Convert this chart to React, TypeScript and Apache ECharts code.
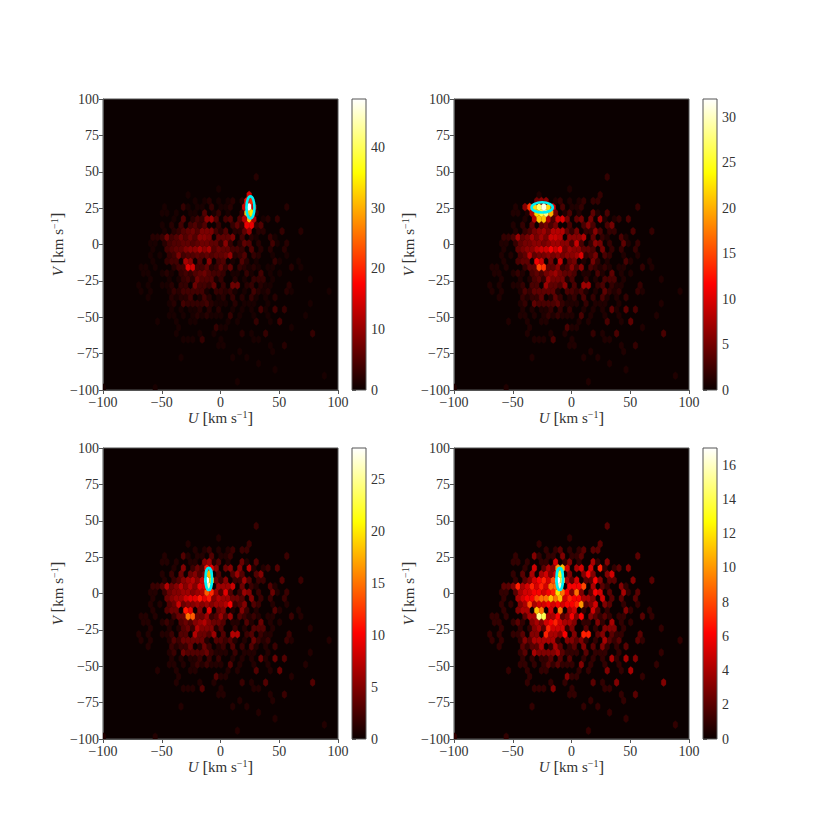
import React, { useEffect, useRef } from "react";
import * as echarts from "echarts";

// Hex-bin counts shared by all panels. Each row is a flat list: column, count, column, count...
const baseRows: number[][] = [
  [12, 1, 1, 1],
  [29, 1],
  [48, 1],
  [37, 1],
  [34, 1],
  [17, 1, 28, 1, 31, 1],
  [30, 1, 37, 1],
  [25, 1, 26, 1, 36, 1, 39, 2],
  [18, 1, 19, 1, 20, 1, 22, 3, 26, 1, 33, 1, 34, 1],
  [16, 1, 21, 1, 24, 1, 30, 2, 32, 1, 35, 3, 45, 3],
  [17, 1, 25, 3, 26, 1, 27, 1, 41, 1],
  [12, 1, 16, 1, 19, 1, 20, 1, 27, 1, 29, 1, 33, 3, 36, 1, 38, 4],
  [15, 1, 16, 1, 18, 1, 20, 1, 21, 2, 22, 1, 23, 2, 24, 1, 25, 1, 26, 1, 28, 3, 30, 1, 33, 1, 36, 1, 44, 1],
  [15, 1, 17, 1, 19, 1, 20, 1, 21, 2, 23, 2, 25, 2, 28, 1, 30, 1, 32, 1, 34, 4, 35, 1, 37, 4, 39, 3],
  [15, 1, 16, 2, 18, 4, 19, 3, 20, 3, 21, 3, 22, 3, 23, 4, 24, 2, 25, 1, 26, 1, 27, 1, 29, 2, 31, 1, 32, 1, 33, 1, 36, 1, 45, 1],
  [10, 1, 15, 2, 16, 1, 17, 2, 18, 2, 19, 4, 21, 1, 22, 4, 23, 2, 25, 1, 26, 2, 28, 3, 30, 2, 32, 3, 33, 1, 35, 1, 37, 2],
  [9, 1, 11, 1, 15, 1, 16, 3, 17, 2, 18, 4, 19, 4, 20, 4, 21, 4, 22, 4, 23, 1, 25, 3, 26, 3, 27, 2, 28, 3, 29, 1, 31, 1, 33, 4, 34, 2, 35, 1, 36, 2, 40, 2, 41, 1, 49, 1],
  [8, 1, 10, 1, 13, 1, 14, 1, 15, 2, 17, 3, 18, 3, 20, 7, 21, 4, 22, 4, 23, 3, 24, 6, 26, 3, 28, 7, 29, 7, 31, 2, 32, 3, 34, 2, 35, 1, 36, 1, 40, 2],
  [11, 1, 15, 1, 17, 1, 18, 3, 19, 4, 20, 2, 21, 7, 22, 5, 23, 5, 24, 5, 25, 1, 26, 3, 29, 2, 31, 1, 33, 3, 34, 3, 35, 3, 37, 1, 45, 1],
  [9, 1, 10, 1, 13, 1, 14, 2, 15, 1, 17, 3, 18, 4, 19, 3, 20, 5, 21, 6, 22, 7, 23, 5, 24, 4, 25, 4, 26, 3, 28, 1, 29, 1, 31, 3, 32, 1, 34, 4, 36, 1, 38, 1],
  [9, 1, 10, 1, 12, 1, 16, 2, 17, 4, 18, 4, 19, 15, 20, 14, 21, 4, 22, 4, 23, 6, 24, 2, 25, 3, 26, 6, 27, 3, 28, 6, 30, 3, 31, 2, 32, 1, 33, 2, 34, 1, 36, 1, 37, 1, 41, 2, 43, 1],
  [11, 1, 14, 3, 15, 4, 16, 4, 18, 11, 19, 9, 21, 5, 23, 9, 25, 4, 26, 5, 28, 1, 30, 5, 31, 2, 33, 1, 37, 3, 38, 1, 42, 1],
  [11, 1, 13, 1, 15, 3, 16, 4, 17, 8, 18, 4, 19, 5, 20, 5, 21, 6, 22, 5, 23, 6, 24, 5, 25, 6, 26, 6, 27, 7, 28, 10, 29, 2, 30, 3, 31, 5, 33, 3, 34, 2, 37, 1, 40, 1],
  [11, 1, 14, 4, 15, 5, 16, 6, 17, 6, 18, 8, 19, 9, 20, 9, 21, 11, 22, 9, 23, 11, 24, 5, 25, 7, 26, 6, 27, 6, 28, 4, 29, 4, 30, 3, 32, 5, 34, 2, 36, 2, 39, 2],
  [11, 1, 12, 1, 14, 2, 15, 4, 16, 5, 17, 5, 18, 6, 19, 6, 20, 5, 21, 6, 22, 7, 23, 7, 24, 6, 25, 6, 26, 3, 27, 9, 28, 3, 30, 2, 31, 6, 32, 5, 34, 2, 37, 4, 38, 1, 40, 2],
  [11, 2, 12, 2, 13, 3, 14, 7, 15, 4, 16, 5, 17, 7, 18, 5, 19, 7, 20, 5, 21, 9, 22, 9, 23, 8, 25, 6, 26, 6, 27, 6, 28, 8, 30, 4, 32, 2, 33, 1, 36, 3, 37, 1],
  [14, 1, 16, 2, 17, 3, 18, 5, 19, 6, 20, 7, 21, 5, 22, 8, 23, 8, 24, 8, 25, 4, 26, 2, 27, 5, 29, 2, 30, 2, 31, 6, 32, 3, 34, 2, 35, 2, 39, 3, 43, 2],
  [13, 1, 15, 2, 17, 4, 19, 4, 20, 5, 21, 3, 22, 5, 25, 3, 28, 3, 29, 6, 30, 3, 33, 3, 34, 5],
  [16, 1, 18, 5, 20, 2, 21, 4, 22, 3, 23, 9, 24, 10, 25, 5, 27, 4, 28, 5, 30, 5, 32, 7, 33, 1, 35, 1, 36, 2, 38, 3],
  [13, 1, 14, 1, 16, 1, 19, 1, 20, 1, 22, 5, 24, 1, 25, 3, 27, 1, 30, 4, 31, 1, 33, 3],
  [14, 1, 18, 3, 19, 1, 21, 1, 22, 1, 24, 3, 26, 1, 27, 1, 28, 2, 40, 2],
  [20, 1, 22, 1, 23, 2, 25, 1, 27, 1, 28, 2, 30, 2, 31, 2],
  [19, 1, 32, 2],
  [25, 1],
  [],
  [33, 2],
];

// Per-panel cluster cells that replace the shared counts: row, column, count.
const clusterA: number[][] = [
  [32, 32, 14], [31, 31, 18], [31, 32, 20], [30, 31, 14], [30, 32, 48], [30, 33, 14],
  [29, 31, 32], [29, 32, 34], [28, 31, 12], [28, 32, 30], [28, 33, 12],
  [27, 31, 16], [27, 32, 16], [26, 32, 10],
];
const clusterB: number[][] = [
  [31, 18, 5], [31, 19, 6], [31, 20, 6], [30, 16, 6], [30, 17, 14], [30, 18, 22], [30, 19, 27],
  [30, 20, 31], [30, 21, 22], [30, 22, 10], [29, 17, 8], [29, 18, 22], [29, 19, 26], [29, 20, 28],
  [29, 21, 20], [28, 18, 8], [28, 19, 21], [28, 20, 21], [28, 21, 8],
];
const clusterC: number[][] = [
  [29, 23, 6], [28, 23, 11], [28, 24, 9], [27, 23, 18], [26, 23, 28], [26, 24, 20], [25, 23, 26],
  [24, 23, 14], [24, 24, 12], [23, 23, 11],
];
const clusterD: number[][] = [
  [28, 23, 10], [28, 24, 11], [27, 23, 13], [26, 23, 17], [26, 24, 14], [25, 23, 16],
  [24, 23, 12], [24, 24, 9], [23, 23, 11],
];
const clusters = [clusterA, clusterB, clusterC, clusterD];

// Ellipse centre and radii in km/s: U, V, rU, rV.
const ellipses: number[][] = [
  [25.5, 25.5, 3.4, 7.6],
  [-25, 25.5, 9, 3.5],
  [-10, 10, 2.8, 7.6],
  [-10, 10, 2.8, 7.6],
];
const colorMaxima = [48, 32, 28, 17];
const colorTicks = [
  [0, 10, 20, 30, 40],
  [0, 5, 10, 15, 20, 25, 30],
  [0, 5, 10, 15, 20, 25],
  [0, 2, 4, 6, 8, 10, 12, 14, 16],
];

const FONT = '"Liberation Serif", serif';
const TEXT = "#333";
const LINE = "#555";
const panelLefts = [103, 454, 103, 454];
const panelTops = [99, 99, 448, 448];
const PW = 235;
const PH = 291;

const hot = (t: number) => {
  const c = (x: number) => Math.round(255 * Math.max(0, Math.min(1, x)));
  const r = 0.0416 + (t * 0.9584) / 0.365;
  const g = (t - 0.365) / 0.381;
  const b = (t - 0.746) / 0.254;
  return `rgb(${c(r)},${c(g)},${c(b)})`;
};

const cellsFor = (panel: number) => {
  const map = new Map<string, number>();
  baseRows.forEach((row, k) => {
    for (let j = 0; j < row.length; j += 2) map.set(`${k}|${row[j]}`, row[j + 1]);
  });
  clusters[panel].forEach(([k, i, v]) => map.set(`${k}|${i}`, v));
  const out: number[][] = [];
  map.forEach((v, key) => {
    const [k, i] = key.split("|").map(Number);
    const u = -103.6 + 4 * i + (k % 2 ? 2 : 0);
    const w = -98.41 + 4.138 * k;
    out.push([u, w, v]);
  });
  return out;
};

const axisName = (sym: string) => `{i|${sym}} {b|[}km s{s|−1}{b|]}`;
const nameStyle = {
  fontFamily: FONT,
  color: TEXT,
  fontSize: 15,
  rich: {
    i: { fontFamily: FONT, fontStyle: "italic" as const, fontSize: 15, color: TEXT },
    b: { fontFamily: FONT, fontSize: 17, color: TEXT },
    s: { fontFamily: FONT, fontSize: 10, color: TEXT, verticalAlign: "top" as const, padding: [0, 0, 5, 0] },
  },
};
const labelFmt = (v: number) => String(v).replace("-", "−");

export default function App() {
  const ref = useRef<HTMLDivElement>(null);
  useEffect(() => {
    const chart = echarts.init(ref.current!, undefined, { renderer: "svg" });
    const grid: any[] = [];
    const xAxis: any[] = [];
    const yAxis: any[] = [];
    const series: any[] = [];
    for (let p = 0; p < 4; p++) {
      const vmax = colorMaxima[p];
      grid.push({
        left: panelLefts[p], top: panelTops[p], width: PW, height: PH,
        show: true, backgroundColor: "#0b0000", borderColor: LINE, borderWidth: 1,
      });
      xAxis.push({
        type: "value", gridIndex: p * 2, min: -100, max: 100, interval: 50,
        splitLine: { show: false },
        axisLine: { show: true, onZero: false, lineStyle: { color: LINE, width: 1 } },
        axisTick: { show: true, length: 4, lineStyle: { color: LINE } },
        axisLabel: { fontFamily: FONT, fontSize: 14, color: TEXT, margin: 5, formatter: labelFmt, hideOverlap: false },
        name: axisName("U"), nameLocation: "middle", nameGap: 19, nameTextStyle: nameStyle,
      });
      yAxis.push({
        type: "value", gridIndex: p * 2, min: -100, max: 100, interval: 25,
        splitLine: { show: false },
        axisLine: { show: true, onZero: false, lineStyle: { color: LINE, width: 1 } },
        axisTick: { show: true, length: 4, lineStyle: { color: LINE } },
        axisLabel: { fontFamily: FONT, fontSize: 14, color: TEXT, margin: 4, formatter: labelFmt, hideOverlap: false },
        name: axisName("V"), nameLocation: "middle", nameGap: 33, nameRotate: 90, nameTextStyle: nameStyle,
      });
      // colour bar
      grid.push({
        left: panelLefts[p] + 249, top: panelTops[p], width: 14, height: PH,
        show: false,
      });
      xAxis.push({ type: "value", gridIndex: p * 2 + 1, min: 0, max: 1, show: false });
      yAxis.push({
        type: "value", gridIndex: p * 2 + 1, min: 0, max: vmax, position: "right",
        splitLine: { show: false },
        axisLine: { show: false },
        axisTick: { show: true, length: 4, lineStyle: { color: LINE }, customValues: colorTicks[p] },
        axisLabel: { fontFamily: FONT, fontSize: 14, color: TEXT, margin: 5, customValues: colorTicks[p], hideOverlap: false },
      });
      series.push({
        type: "custom", xAxisIndex: p * 2, yAxisIndex: p * 2, silent: true, clip: true,
        data: cellsFor(p),
        renderItem: (_: any, api: any) => {
          const u = api.value(0), v = api.value(1), n = api.value(2);
          const hw = 2, r = 2.76, s = 1.38;
          const pts = [[u, v + r], [u + hw, v + s], [u + hw, v - s], [u, v - r], [u - hw, v - s], [u - hw, v + s]]
            .map((d) => api.coord(d));
          const col = hot(Math.min(1, n / vmax));
          return { type: "polygon", shape: { points: pts }, style: { fill: col, stroke: col, lineWidth: 0.3 } };
        },
      });
      series.push({
        type: "custom", xAxisIndex: p * 2, yAxisIndex: p * 2, silent: true, clip: true,
        data: [ellipses[p]],
        renderItem: (_: any, api: any) => {
          const c = api.coord([api.value(0), api.value(1)]);
          const sz = api.size([api.value(2), api.value(3)]);
          return {
            type: "ellipse",
            shape: { cx: c[0], cy: c[1], rx: sz[0], ry: sz[1] },
            style: { fill: "none", stroke: "#00f0f5", lineWidth: 2.6 },
          };
        },
      });
      series.push({
        type: "custom", xAxisIndex: p * 2 + 1, yAxisIndex: p * 2 + 1, silent: true,
        data: [[0, 0, 1, vmax]],
        renderItem: (_: any, api: any) => {
          const a = api.coord([api.value(0), api.value(1)]);
          const b = api.coord([api.value(2), api.value(3)]);
          return {
            type: "rect",
            shape: { x: a[0], y: b[1], width: b[0] - a[0], height: a[1] - b[1] },
            style: {
              fill: new echarts.graphic.LinearGradient(0, 1, 0, 0, [
                { offset: 0, color: "#0b0000" },
                { offset: 0.365, color: "#ff0000" },
                { offset: 0.746, color: "#ffff00" },
                { offset: 1, color: "#ffffff" },
              ]),
              stroke: LINE,
              lineWidth: 1,
            },
          };
        },
      });
    }
    chart.setOption({ animation: false, backgroundColor: "#fff", grid, xAxis, yAxis, series });
    return () => chart.dispose();
  }, []);
  return <div ref={ref} style={{ position: "absolute", left: 0, top: 0, width: 830, height: 830 }} />;
}
